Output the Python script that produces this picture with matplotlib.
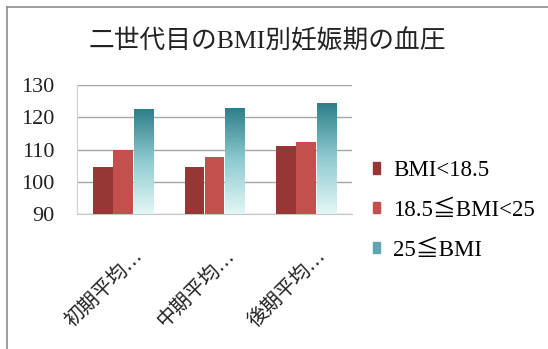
import matplotlib.pyplot as plt
import numpy as np
from matplotlib.colors import LinearSegmentedColormap
from matplotlib.lines import Line2D
from matplotlib.patches import Patch
from matplotlib.transforms import ScaledTranslation

plt.rcParams['font.family'] = ['Liberation Serif', 'Noto Sans CJK JP', 'DejaVu Serif']

# blood pressure by BMI group, second generation
periods = ['初期平均…', '中期平均…', '後期平均…']
series_names = ['BMI<18.5', '18.5≦BMI<25', '25≦BMI']
bmi_low = [104.8, 104.8, 111.3]
bmi_mid = [110.0, 107.9, 112.3]
bmi_high = [122.6, 123.0, 124.6]
y_ticks = [90, 100, 110, 120, 130]

fig = plt.figure(figsize=(5.48, 3.49), dpi=100)
ax = fig.add_axes([0.1405, 0.386, 0.502, 0.370])

x = np.arange(len(periods))
width = 0.215
base = y_ticks[0]

dark_red = '#953735'
red = '#C4504D'
teal_cmap = LinearSegmentedColormap.from_list('teal', ['#E4F7F7', '#8FCBD0', '#2C7D88'])

ax.bar(x - 0.22, np.array(bmi_low) - base, width, bottom=base, color=dark_red, zorder=3)
ax.bar(x, np.array(bmi_mid) - base, width, bottom=base, color=red, zorder=3)
teal_bars = ax.bar(x + 0.225, np.array(bmi_high) - base, width, bottom=base,
                   color='none', zorder=3)

# vertical gradient inside the teal bars
grad = np.linspace(0, 1, 256).reshape(-1, 1)
for bar in teal_bars:
    bx, by = bar.get_x(), bar.get_y()
    im = ax.imshow(grad, cmap=teal_cmap, origin='lower', aspect='auto',
                   extent=[bx, bx + bar.get_width(), by, by + bar.get_height()],
                   zorder=3)
    im.set_clip_path(bar)

ax.set_xlim(-0.5, len(periods) - 0.5)
ax.set_ylim(y_ticks[0], y_ticks[-1])
ax.set_yticks(y_ticks)
ax.set_yticklabels([str(t) for t in y_ticks], fontsize=16, color='#222222')
ax.tick_params(axis='y', length=0, pad=16)
ax.set_xticks([])
ax.grid(True, axis='y', color='#A6A6A6', linewidth=1.0, zorder=0)
for side in ['top', 'right']:
    ax.spines[side].set_visible(False)
ax.spines['left'].set_color('#D0D0D0')
ax.spines['bottom'].set_color('#C8C8C8')

# slanted category labels
label_shift = ScaledTranslation(0.18, -0.40, fig.dpi_scale_trans)
for xi, name in zip(x, periods):
    ax.text(xi, 0, name, transform=ax.get_xaxis_transform() + label_shift,
            rotation=45, rotation_mode='anchor', ha='right', va='center',
            fontsize=14.5, color='#222222')

ax.set_facecolor('white')
fig.text(0.487, 0.883, '二世代目のBMI別妊娠期の血圧', ha='center', va='center',
         fontsize=18.5, color='#222222')

handles = [Patch(color=dark_red), Patch(color=red), Patch(color='#5FA6B0')]
fig.legend(handles, series_names, loc='upper left', bbox_to_anchor=(0.664, 0.568),
           frameon=False, fontsize=16.5, handlelength=0.32, handleheight=0.4,
           handletextpad=0.55, labelspacing=0.82, borderaxespad=0)

# outer chart frame
fig.add_artist(Line2D([0.013, 0.013], [0.0, 0.98], color='#8C8C8C', linewidth=1.2))
fig.add_artist(Line2D([0.013, 1.0], [0.98, 0.98], color='#8C8C8C', linewidth=1.2))

fig.savefig('out.png', dpi=100)
